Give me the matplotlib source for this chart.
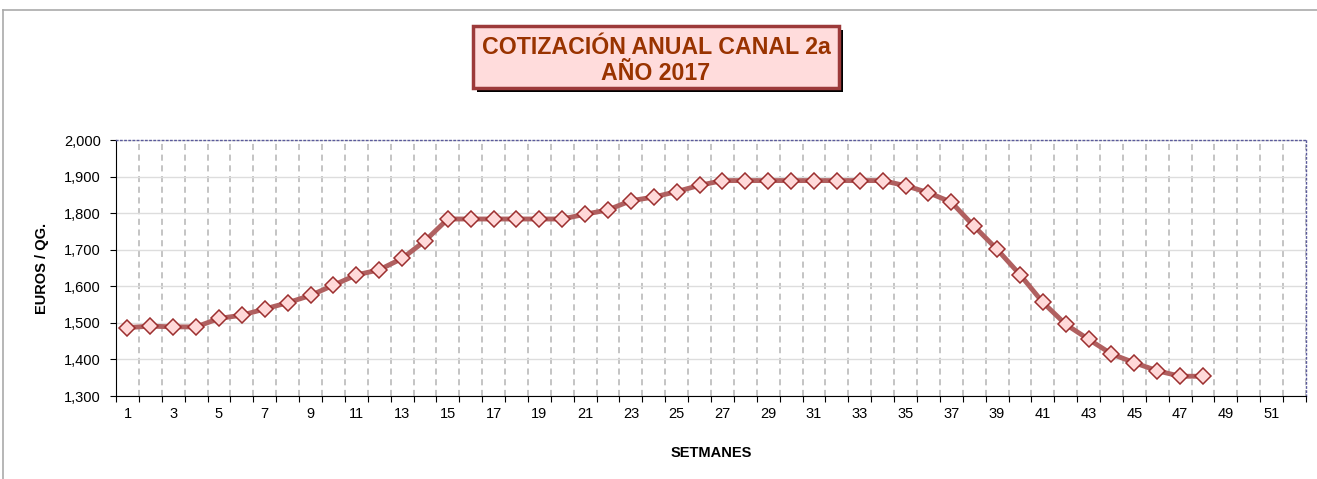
import matplotlib
matplotlib.use("Agg")
import matplotlib.pyplot as plt
from matplotlib.patches import Rectangle
from matplotlib.lines import Line2D
from matplotlib.ticker import FuncFormatter, MultipleLocator, FixedLocator

plt.rcParams["font.family"] = ["Liberation Sans", "DejaVu Sans"]

# weekly price, euros per quintal (weeks 1..48 of 52)
weeks = list(range(1, 49))
price = [1487, 1491, 1489, 1489, 1512, 1521, 1538, 1555, 1575, 1603,
         1631, 1645, 1676, 1724, 1784, 1784, 1784, 1784, 1784, 1784,
         1797, 1809, 1834, 1844, 1859, 1876, 1889, 1889, 1889, 1889,
         1889, 1889, 1889, 1889, 1875, 1856, 1830, 1764, 1701, 1632,
         1556, 1496, 1455, 1415, 1391, 1369, 1354, 1354]
n_weeks = 52
x_labels = list(range(1, n_weeks + 1, 2))

W, H = 1317, 479
fig = plt.figure(figsize=(W / 100, H / 100), dpi=100)

# outer frame (left + top visible)
fig.add_artist(Line2D([3 / W, 3 / W], [0, 1 - 10 / H], color="#aaaaaa", lw=1.2))
fig.add_artist(Line2D([3 / W, 1], [1 - 10 / H, 1 - 10 / H], color="#aaaaaa", lw=1.2))

ax = fig.add_axes([116 / W, 1 - 396 / H, 1190 / W, 256 / H])

ax.plot(weeks, price, color="#b06060", lw=3.5, zorder=3,
        marker="D", markersize=8.5, markerfacecolor="#ffd9d9",
        markeredgecolor="#9c2f2f", markeredgewidth=1.1)

ax.set_xlim(0.5, n_weeks + 0.5)
ax.set_ylim(1300, 2000)

# labels at week centres, ticks/grid at week boundaries
ax.xaxis.set_major_locator(FixedLocator(x_labels))
ax.xaxis.set_minor_locator(FixedLocator([w + 0.5 for w in range(0, n_weeks + 1)]))
ax.tick_params(axis="x", which="major", length=0, pad=8, labelsize=10.5)
ax.tick_params(axis="x", which="minor", length=4, width=0.8, color="black")
ax.grid(axis="x", which="minor", color="#b4b4b4", linestyle=(0, (4, 3)), lw=1.1)

ax.yaxis.set_major_locator(MultipleLocator(100))
ax.yaxis.set_major_formatter(FuncFormatter(lambda v, p: f"{v:,.0f}"))
ax.tick_params(axis="y", length=4, width=0.8, labelsize=10.5, pad=7)
ax.grid(axis="y", which="major", color="#dddddd", lw=1)
ax.set_axisbelow(True)

for side in ("top", "right"):
    ax.spines[side].set_color("#5a5a9a")
    ax.spines[side].set_linestyle((0, (1, 2)))
    ax.spines[side].set_linewidth(1)
ax.spines["left"].set_color("black")
ax.spines["bottom"].set_color("black")

ax.set_xlabel("SETMANES", fontsize=10.5, fontweight="bold")
ax.xaxis.set_label_coords(0.5, -0.195)
ax.set_ylabel("EUROS / QG.", fontsize=10.5, fontweight="bold")
ax.yaxis.set_label_coords(-0.0565, 0.5)

# title box with shadow
bx0, by0, bx1, by1 = 473, 26, 839, 88
fig.add_artist(Rectangle(((bx0 + 4) / W, 1 - (by1 + 4) / H), (bx1 - bx0) / W,
                         (by1 - by0) / H, facecolor="black", edgecolor="none"))
fig.add_artist(Rectangle((bx0 / W, 1 - by1 / H), (bx1 - bx0) / W, (by1 - by0) / H,
                         facecolor="#ffdcdc", edgecolor="#9c3a3a", lw=2.5))
fig.text((bx0 + bx1) / 2 / W, 1 - 47 / H, "COTIZACIÓN ANUAL CANAL 2a",
         ha="center", va="center", fontsize=16.7, fontweight="bold", color="#993300")
fig.text((bx0 + bx1) / 2 / W, 1 - 73 / H, "AÑO 2017",
         ha="center", va="center", fontsize=16.7, fontweight="bold", color="#993300")

fig.savefig("out.png", dpi=100)
